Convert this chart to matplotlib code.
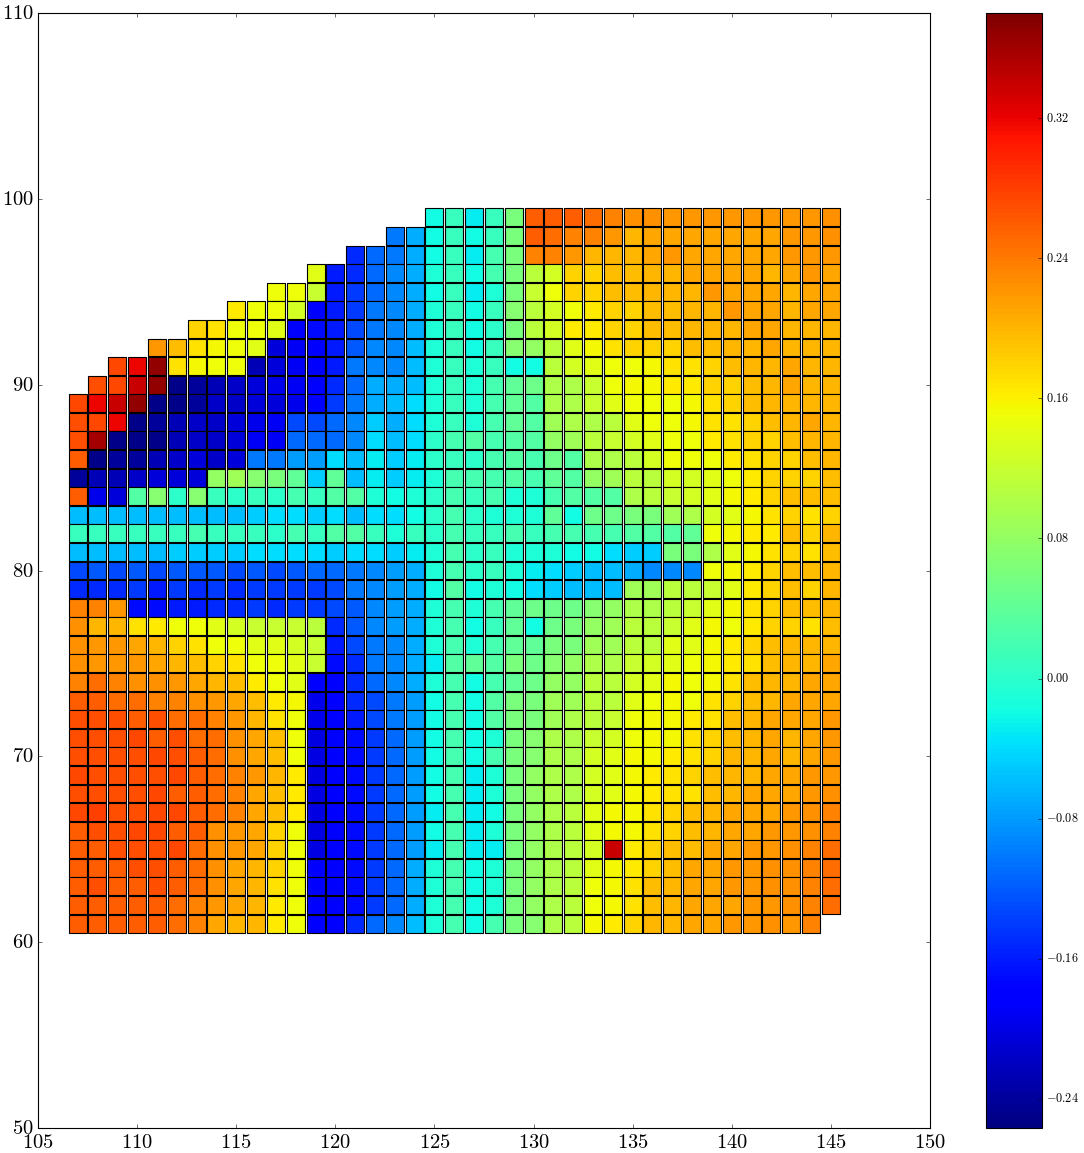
import numpy as np
import matplotlib
matplotlib.use("Agg")
import matplotlib.pyplot as plt

_ = float("nan")

lons = list(range(107, 146))
lats = list(range(99, 60, -1))

# cell values in hundredths; columns are lons, one list per latitude
row_99 = [_]*18 + [-2,1,-3,1,6,26,26, 26,25,23.5,22.5,22.5,22,22,22,22,22,22,22,22,22.5]
row_98 = [_]*16 + [-10,-7, -2,1,-2,1,6,26,25, 23.5,23.5,22,20,21,21,21,21,21,21,21,22,22,22.5]
row_97 = [_]*14 + [-15,-11,-10,-7, -2,1,-3,2,6,23.5,23.5, 22,20,20,20,21,22,21,21,21,21,21,22,22,22]
row_96 = [_]*12 + [14,-16,-15,-11,-9,-7, -1,1,-2,2,6,11,13, 18,18,19.5,19.5,20,20,21,21,21,21,20,21,22,21]
row_95 = [_]*10 + [15,15, 12,-16,-14,-11,-9,-7, -2,1,-3,-1,6,12,15, 18,18,19.5,19.5,20,20,20,22,21,21,21,20,21,21]
row_94 = [_]*8 + [16.5,15,15,13, -18,-16,-14,-10,-9,-7, -1,1,-2,1,7,11,13, 15,16.5,18,18,19.5,19.5,20,20,22,21,21,20,21,21]
row_93 = [_]*6 + [18,17,15,15,14,-18, -17,-16,-13,-10,-9,-7, -1,1,-2,0,6,11,13, 16.5,16.5,18,18,19.5,19.5,20,20,20,21,21,20,20,20]
row_92 = [_]*4 + [22,19.5,17,15.5,15,14,-20.5,-19, -18,-16,-12,-9,-9,-6, -1,1,-2,1,7,8,11, 14,15.5,17,18,18,18,19.5,19.5,20,20,21,20,20,20]
row_91 = [_]*2 + [27.5,32,37,17,15.5,15,15,-22.5,-20.5,-19, -18,-16,-10,-9,-9,-6, -1,1,-1,1,-2,-2,11, 13,14,15,15,15.5,17,17,18,19.5,20,20,21,20,20]
row_90 = [_] + [27,27.5,34,37,-25,-24,-22.5,-21.5,-20.5,-19.5,-19, -18,-15,-11,-7,-7,-6, -1,1,-1,2,4,5,10, 10,12,15,15.5,15.5,16.5,16.5,18,18,19.5,20,21,20,20]
row_89 = [27.5,32,34,37,-25,-25,-24,-21.5,-21.5,-20.5,-20.5,-19.5, -18,-14,-10,-7,-6,-4, -1,1,-1,2,4,3,10, 10,12,14,15,15,15,15.5,17,18,19.5,20,20,20,20]
row_88 = [27,27.5,32,-25,-24,-22.5,-21.5,-21.5,-20.5,-19.5,-19,-13, -13,-11,-9,-5,-7,-4, -1,1,-1,2,4,3,9, 10,10,11,14,15,15,15.5,17,17,18,19.5,20,21,20]
row_87 = [27,36,-25,-25,-25,-22.5,-21.5,-21.5,-20.5,-19,-19,-11, -11,-11,-9,-4,-6,-4, 0,2,3,2,3,3,8, 9,11,12,13,14,15,15,16.5,17,18,18,19.5,20,20]
row_86 = [26,-25,-24,-24,-22.5,-21.5,-20.5,-21.5,-20.5,-10,-10,-8, -8,-4,-6,-3,-5,-3, 0,1,0,2,3,2,5, 3,10,10,11,13,15,15,15,16.5,17,18,18,19.5,20]
row_85 = [-24,-22.5,-22.5,-21.5,-20.5,-20.5,-20.5,8,9,7,6,4, -5,4,-6,-3,-5,-3, -1,2,2,2,3,2,4, 3,8,9,11,11,13,13,14,15,16.5,18,18,18,19.5]
row_84 = [26,-19.5,-20.5,3,7,0,7,1,0,1,0,2, 1,3,3,-1,-2,-1, 0,2,1,2,-1,-1,2, 3,3,3,10,11,12,13,14,15.5,16.5,18,19.5,19.5,19.5]
row_83 = [-6,-6,-6,-6,-6,-6,-6,-6,-6,-5,-4,-4, -5,-4,-6,-4,-4,-2, 0,2,0,-1,-1,-1,4, -2,5,5,6,6,9,10,13,14,15.5,17,18,17,18]
row_82 = [1,1,1,1,1,1,2,1,1,1,0,2, 1,3,3,1,-1,1, 0,2,1,1,2,1,2, 2,2,2,3,3,3,4,15,15.5,16.5,16.5,19.5,18,20]
row_81 = [-6,-6,-6,-6,-6,-5,-5,-5,-5,-4,-4,-4, -4,-5,-4,-4,-5,-3, -1,2,0,1,-1,-1,-1, -2,-2,-4,-5,-5,6,6,10,14,15.5,17,18,17,19.5]
row_80 = [-13,-12,-13,-12,-13,-12,-12,-12,-13,-12,-13,-12, -11,-11,-10,-9,-8,-7, -1,2,0,1,-1,-3,-4, -5,-6,-6,-7,-9,-9,-9,15,15.5,16.5,18,19.5,19.5,20]
row_79 = [-15,-15,-15,-14,-16,-14,-15,-14,-15,-14,-14,-14, -14,-13,-10,-9,-8,-7, -2,3,-2,-1,-2,-4,-5, -6,-6,-6,9,9,11,11,12,14,16.5,18,19.5,18,20]
row_78 = [23.5,23.5,22,-17,-17,-16,-16,-15,-15,-14,-15,-14, -14,-13,-12,-9,-8,-7, -1,2,-1,2,4,5,5, 5,7,8,10,10,11,12,14,15.5,17,18,19.5,19.5,20]
row_77 = [22.5,20,20,17,16.5,15,15,14,13,12,12,12, 11,-15,-12,-9,-8,-7, -1,2,-2,1,4,-2,5, 6,8,9,11,11,12,14,15.5,15,16.5,18,18,17,19.5]
row_76 = [22.5,22,22,21,20,18,17,15,15,14,14,13, 12,-16,-13,-10,-9,-7, -1,2,-1,2,4,4,6, 6,9,9,11,11,14,14,15.5,16.5,18,19.5,20,20,20]
row_75 = [22.5,22,22,22,21,20,19.5,18,17,15,15,14, 12,-17,-15,-10,-9,-7, -3,3,4,3,6,5,7, 8,10,10,12,13,14,15,15.5,16.5,17,19.5,20,20,21]
row_74 = [23.5,25,23.5,22.5,22.5,22,21,20,19.5,16.5,15,14, -18,-18,-15,-11,-9,-7, -1,2,-2,2,4,5,8, 8,11,11,13,14,15.5,15,15.5,17,19.5,20,20,21,21]
row_73 = [26,26,25,25,23.5,23.5,22.5,22,21,19.5,16.5,15.5, -19.5,-18,-15,-13,-10,-8, -2,2,-2,3,6,6,9, 9,11,11,14,15,15.5,15,17,18,19.5,20,21,21,21]
row_72 = [27,27,27,26,27,25,25,23.5,22,20,17,15, -19.5,-18,-16,-13,-10,-8, -2,2,-2,3,6,6,9, 10,11,12,15,15.5,15.5,16.5,17,19.5,20,21,21,21,22]
row_71 = [27,27,27,27.5,26,27,25,25,22.5,21,19.5,15, -20,-18,-17,-14,-11,-8, -2,2,-2,-1,6,7,10, 10,12,13,15,15.5,15.5,17,18,19.5,20,21,20,21,22]
row_70 = [27,27,27,27,27.5,27,26,25,22.5,21,19.5,15, -20,-18,-17,-14,-11,-8, -2,2,-2,2,6,7,10, 10,13,14,15.5,15.5,16.5,17,18,20,20,21,20,21,22]
row_69 = [27.5,27,27,27,27,27.5,26,25,23.5,22,20,16.5, -20,-18,-17,-14,-11,-8, -2,2,-3,-1,6,8,10, 10,13,14,15.5,16.5,17,18,19.5,20,20,21,21,22,22]
row_68 = [27,27,27,27,27.5,26,26,25,23.5,21,19.5,16.5, -20,-18,-17,-14,-11,-8, -2,2,-3,-1,6,8,10, 10,13,14,15.5,16.5,17,17,19.5,20,21,21,21,22,22.5]
row_67 = [27.5,28,27,27,27.5,27.5,26,25,23.5,21,19.5,16.5, -20,-18,-17,-14,-11,-8, -3,2,-3,-2,6,8,10, 11,14,15.5,15.5,17,18,19.5,20,21,21,21,22,22.5,23.5]
row_66 = [26,27,27,27.5,27.5,26,26,22.5,22,21,18,15, -20,-18,-17,-14,-11,-8, -2,2,-3,-1,6,8,10, 11,14,15.5,15.5,17,18,19.5,20,21,21,22,22,22.5,23.5]
row_65 = [26,26,27,27,27,27.5,25,22.5,22,21,18,15, -20,-18,-17,-14,-11,-8, -3,2,-3,-3,6,8,10, 11,13,34,16.5,18,19.5,19.5,21,21,22,22,22.5,23.5,25]
row_64 = [26,26,26,27,27,26,25,22.5,21,20,18,15, -18.5,-18,-17,-14,-11,-7, -1,2,-2,-1,6,8,10, 11,14,15.5,16.5,18,19.5,21,21,22,22,22.5,22.5,23.5,25]
row_63 = [26,27,26,26,27,26,25,22.5,21,20,17,15, -18.5,-18,-17,-14,-11,-7, -1,2,-2,-1,6,8,10, 11,15,15.5,17,19.5,20,21,21,22,22,22.5,22.5,23.5,25]
row_62 = [26,26,26,26,26,25,23.5,22,21,20,16.5,15, -18.5,-18,-17,-14,-11,-7, -1,2,-2,-1,6,8,10, 11,15,15.5,17,19.5,20,21,21,21,22,22,22.5,23.5,25]
row_61 = [26,26,26,26,26,25,23.5,21,20,20,16.5,15, -18.5,-18,-15,-11,-9,-6, -1,2,-2,2,6,7,10, 11,15.5,16.5,18,20,20,21,21,22,22,22.5,22,23.5,_]

rows = [row_99, row_98, row_97, row_96, row_95, row_94, row_93, row_92, row_91, row_90,
        row_89, row_88, row_87, row_86, row_85, row_84, row_83, row_82, row_81, row_80,
        row_79, row_78, row_77, row_76, row_75, row_74, row_73, row_72, row_71, row_70,
        row_69, row_68, row_67, row_66, row_65, row_64, row_63, row_62, row_61]

x_ticks = [105, 110, 115, 120, 125, 130, 135, 140, 145, 150]
y_ticks = [50, 60, 70, 80, 90, 100, 110]
cbar_ticks = [-0.24, -0.16, -0.08, 0.00, 0.08, 0.16, 0.24, 0.32]

plt.style.use("classic")
plt.rcParams["mathtext.fontset"] = "cm"

W, H = 1084, 1153
fig = plt.figure(figsize=(W/80, H/80), dpi=80, facecolor="white")
ax = fig.add_axes([38/W, 25/H, 892/W, 1115/H])

grid = np.array(rows, dtype=float) / 100.0
X, Y = np.meshgrid(lons, lats)
sc = ax.scatter(X.ravel(), Y.ravel(), c=grid.ravel(), marker="s", s=262,
                cmap="jet", vmin=-0.2566, vmax=0.38,
                edgecolors="k", linewidths=1.0)
ax.set_xlim(105, 150)
ax.set_ylim(50, 110)
ax.set_xticks(x_ticks)
ax.set_yticks(y_ticks)
ax.set_xticklabels([f"${v}$" for v in x_ticks], fontsize=18.5)
ax.set_yticklabels([f"${v}$" for v in y_ticks], fontsize=18.5)

cax = fig.add_axes([986/W, 25/H, 56/W, 1115/H])
cb = fig.colorbar(sc, cax=cax)
cb.set_ticks(cbar_ticks)
cb.set_ticklabels([f"${v:.2f}$" for v in cbar_ticks])
cb.ax.tick_params(labelsize=11)

fig.savefig("out.png", dpi=80, facecolor="white")
